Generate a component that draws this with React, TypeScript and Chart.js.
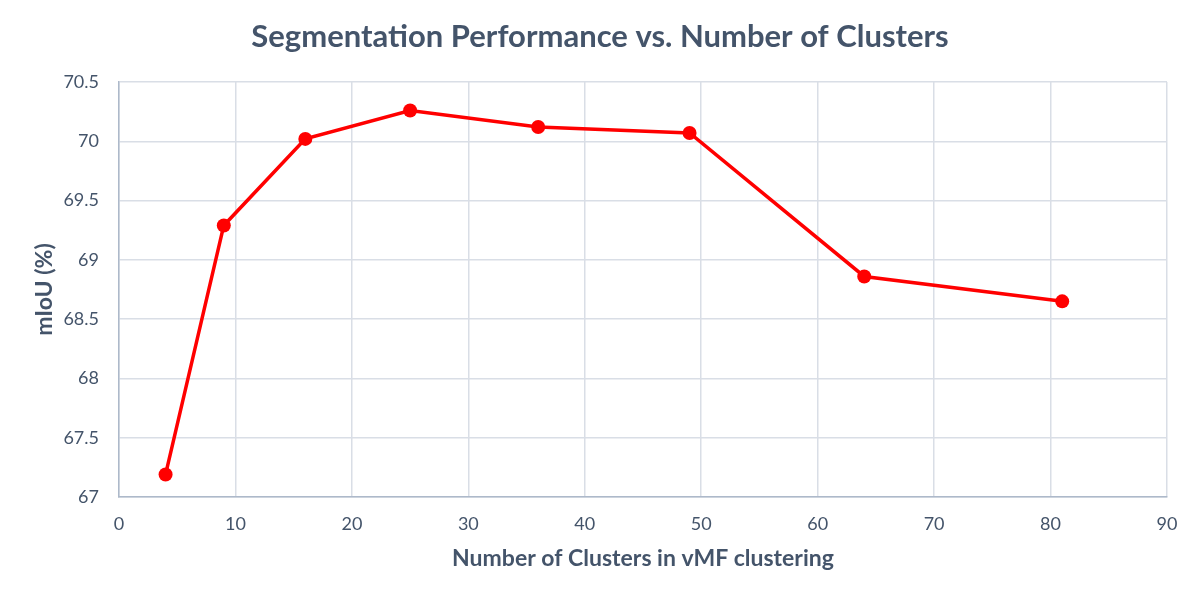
import React, { useEffect, useRef } from "react";
import { Chart, registerables } from "chart.js";

Chart.register(...registerables);

const clusterCounts = [4, 9, 16, 25, 36, 49, 64, 81];
const miouValues = [67.19, 69.29, 70.02, 70.26, 70.12, 70.07, 68.86, 68.65];
const titleText = "Segmentation Performance vs. Number of Clusters";
const xTitle = "Number of Clusters in vMF clustering";
const yTitle = "mIoU (%)";

const TEXT = "#44546A";
const FONT = "Lato, 'Open Sans', sans-serif";

export default function App() {
  const ref = useRef<HTMLCanvasElement | null>(null);
  useEffect(() => {
    if (!ref.current) return;
    const chart = new Chart(ref.current, {
      type: "scatter",
      data: {
        datasets: [
          {
            data: clusterCounts.map((x, i) => ({ x, y: miouValues[i] })),
            showLine: true,
            borderColor: "#FF0000",
            backgroundColor: "#FF0000",
            borderWidth: 3.5,
            pointRadius: 7,
            pointHoverRadius: 7,
            pointBorderWidth: 0,
            xAxisID: "x",
            yAxisID: "y",
          },
        ],
      },
      options: {
        animation: false,
        responsive: false,
        maintainAspectRatio: false,
        layout: { padding: 0 },
        plugins: {
          legend: { display: false },
          tooltip: { enabled: false },
          title: {
            display: true,
            text: titleText,
            color: TEXT,
            font: { family: FONT, size: 31, weight: "bold", lineHeight: 1.2 },
            padding: { top: 18.4, bottom: 26.4 },
          },
        },
        scales: {
          x: {
            type: "linear",
            min: 0,
            max: 90,
            ticks: {
              stepSize: 10,
              color: TEXT,
              font: { family: FONT, size: 18 },
              padding: 16,
            },
            grid: { color: "#D9DEE6", lineWidth: 1.5, drawTicks: false },
            border: { color: "#ADB9CA", width: 1.5 },
            title: {
              display: true,
              text: xTitle,
              color: TEXT,
              font: { family: FONT, size: 23, weight: "bold", lineHeight: 1.2 },
              padding: { top: 0, bottom: 27.2 },
            },
            afterFit: (s: any) => {
              s.height = 103;
            },
          },
          y: {
            type: "linear",
            position: "left",
            min: 67,
            max: 70.5,
            ticks: {
              stepSize: 0.5,
              color: TEXT,
              font: { family: FONT, size: 18 },
              padding: 20,
              callback: (v: any) => String(Math.round(Number(v) * 10) / 10),
            },
            grid: { color: "#D9DEE6", lineWidth: 1.5, drawTicks: false },
            border: { color: "#ADB9CA", width: 1.5 },
            title: {
              display: true,
              text: yTitle,
              color: TEXT,
              font: { family: FONT, size: 23, weight: "bold", lineHeight: 1.2 },
              padding: { top: 31.2, bottom: 0 },
            },
            afterFit: (s: any) => {
              s.width = 119;
            },
          },
          yRight: {
            type: "linear",
            position: "right",
            min: 67,
            max: 70.5,
            display: true,
            ticks: { display: false },
            grid: { display: false, drawTicks: false },
            border: { display: false },
            afterFit: (s: any) => {
              s.width = 33;
            },
          },
        },
      },
    });
    return () => chart.destroy();
  }, []);
  return (
    <div style={{ position: "fixed", left: 0, top: 0, width: 1200, height: 600, background: "#fff" }}>
      <canvas ref={ref} width={1200} height={600} style={{ width: 1200, height: 600 }} />
    </div>
  );
}
